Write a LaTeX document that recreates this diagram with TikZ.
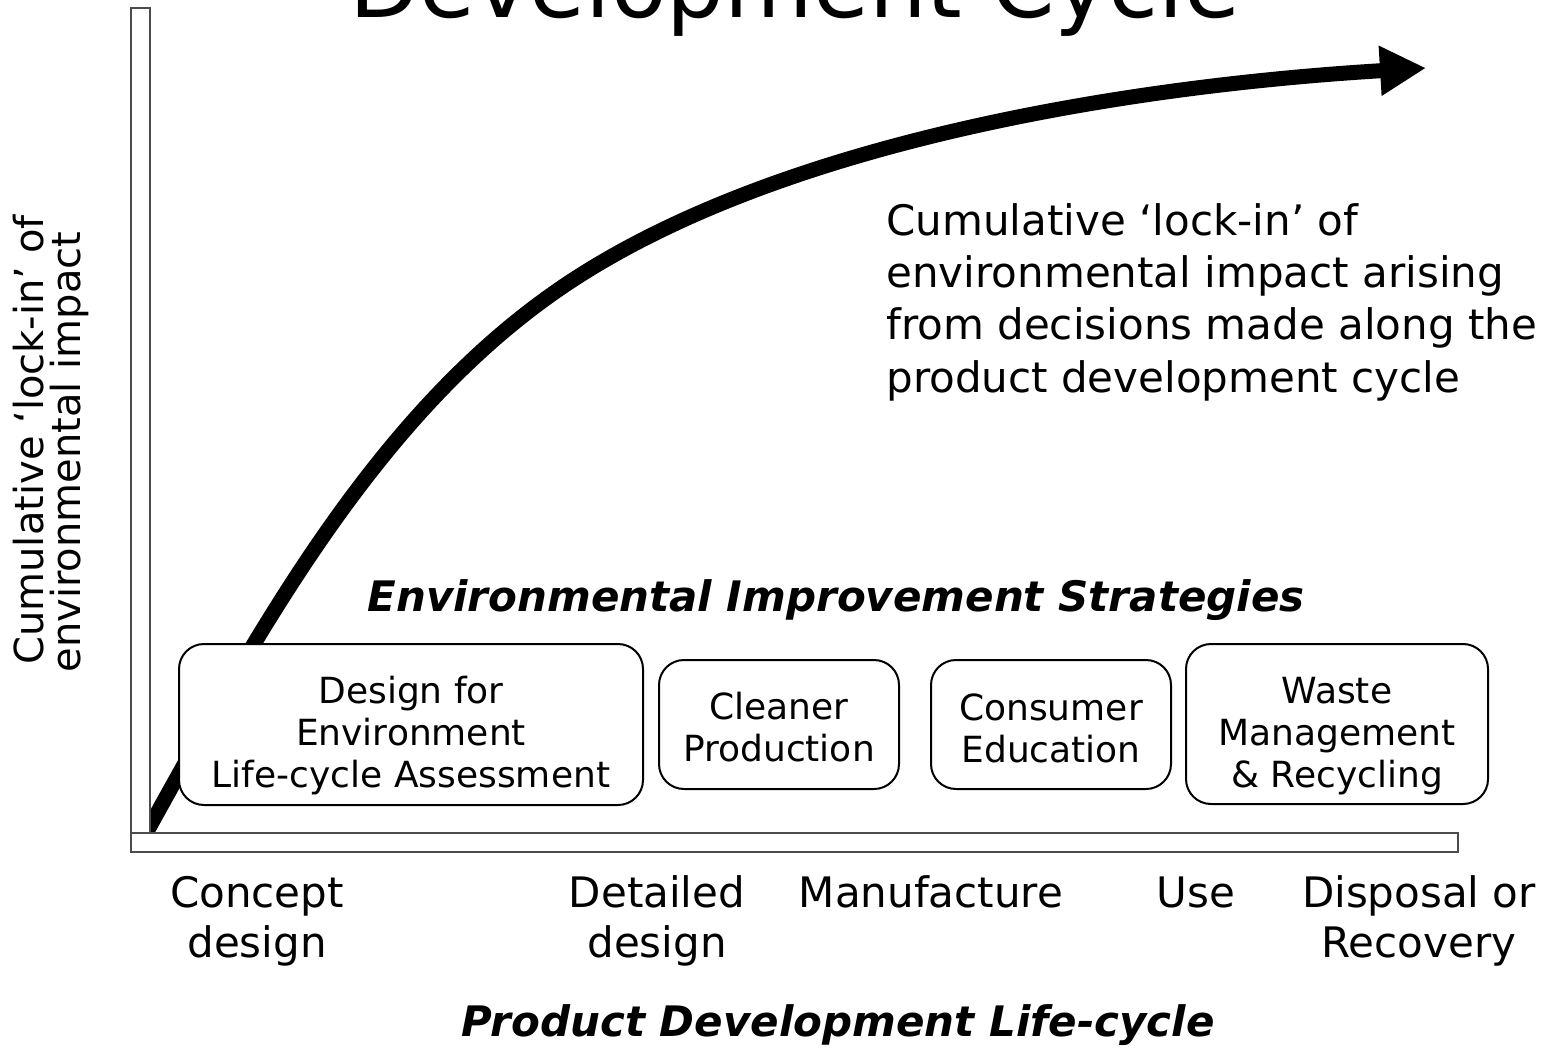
\documentclass[tikz,border=0pt]{standalone}
\usepackage{fontspec}
\setmainfont{DejaVu Sans}
\usetikzlibrary{arrows.meta}
\begin{document}
\begin{tikzpicture}[x=0.5pt,y=-0.5pt,
  axisbar/.style={draw=black!70, line width=1pt, fill=white},
  strategy/.style={draw=black, line width=1pt, fill=white, rounded corners=12.5pt, inner sep=0pt},
  boxtext/.style={align=center, inner sep=0pt, font=\fontsize{18}{21}\selectfont},
  lbl/.style={inner sep=0pt, anchor=base, font=\fontsize{21}{25}\selectfont},
  ylbl/.style={inner sep=0pt, anchor=base, rotate=90, font=\fontsize{20}{24}\selectfont},
  heading/.style={inner sep=0pt, anchor=base, font=\fontsize{21}{25}\selectfont\bfseries\itshape},
  lockin/.style={line width=7.5pt, -{Triangle[length=23pt,width=23.5pt]}},
]
\useasboundingbox (0,0) rectangle (1556,1053);

% title, partly above the page edge
\node[inner sep=0pt, anchor=base, font=\fontsize{45.5}{50}\selectfont] (title) at (795,18) {Development Cycle};

% cumulative lock-in curve (its foot is hidden behind the axes)
\coordinate (foot) at (145,835);
\coordinate (bend) at (555,292);
\coordinate (tip) at (1426,68);
\draw[lockin] (foot) .. controls (255,637) and (372,420) .. (bend)
              .. controls (768,143) and (1126.6,86) .. (tip);

% axes drawn as thin bars
\draw[axisbar] (131,8) rectangle (150,833);
\draw[axisbar] (131,833) rectangle (1458,852);

% y-axis label
\node[ylbl] (ylab1) at (43,440) {Cumulative ‘lock-in’ of};
\node[ylbl] (ylab2) at (80,452) {environmental impact};

% explanation of the curve
\node[lbl, anchor=base west] (note1) at (886,236) {Cumulative ‘lock-in’ of};
\node[lbl, anchor=base west] (note2) at (886,288) {environmental impact arising};
\node[lbl, anchor=base west] (note3) at (886,340) {from decisions made along the};
\node[lbl, anchor=base west] (note4) at (886,392) {product development cycle};

% strategies
\node[heading] (strategies) at (836,611) {Environmental Improvement Strategies};

\node[strategy, minimum width=232pt, minimum height=80.5pt] (dfe) at (411,724.5) {};
\node[boxtext] (dfetext) at (411,735.5) {Design for\\Environment\\Life-cycle Assessment};

\node[strategy, minimum width=120pt, minimum height=64.5pt] (cp) at (779,724.5) {};
\node[boxtext] (cptext) at (779,727.5) {Cleaner\\Production};

\node[strategy, minimum width=120pt, minimum height=64.5pt] (ce) at (1051,724.5) {};
\node[boxtext] (cetext) at (1051,728) {Consumer\\Education};

\node[strategy, minimum width=151pt, minimum height=80pt] (wm) at (1337,724) {};
\node[boxtext] (wmtext) at (1337,736) {Waste\\Management\\\& Recycling};

% life-cycle stages
\node[lbl] (concept1) at (257,907) {Concept};
\node[lbl] (concept2) at (257,957) {design};
\node[lbl] (detail1) at (657,907) {Detailed};
\node[lbl] (detail2) at (657,957) {design};
\node[lbl] (manuf) at (931,907) {Manufacture};
\node[lbl] (use) at (1196,907) {Use};
\node[lbl] (disp1) at (1419,907) {Disposal or};
\node[lbl] (disp2) at (1419,957) {Recovery};

\node[heading] (lifecycle) at (838,1036) {Product Development Life-cycle};
\end{tikzpicture}
\end{document}
